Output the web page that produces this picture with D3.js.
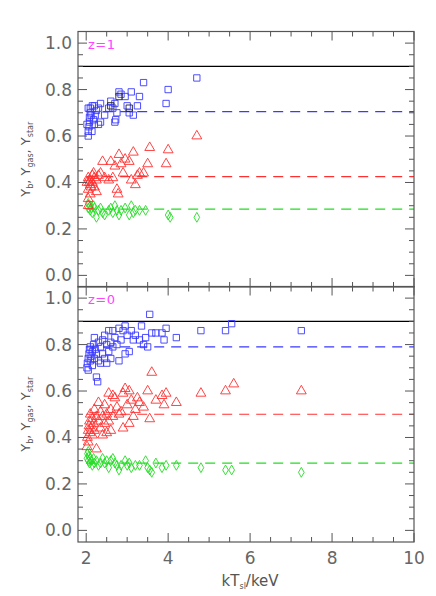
<!DOCTYPE html>
<html><head><meta charset="utf-8">
<script src="https://cdn.jsdelivr.net/npm/d3@7"></script>
<style>body{margin:0;background:#fff}text{font-family:"DejaVu Sans",sans-serif}</style>
</head><body><svg id="c" width="436" height="596"></svg>
<script>
const xTicks=[2,4,6,8,10];
const yTicks=[0.0,0.2,0.4,0.6,0.8,1.0];
const panelLabels=["z=1","z=0"];
// reference lines per panel: [black, blue, red, green]
const refLines=[[0.9,0.705,0.425,0.285],[0.9,0.79,0.5,0.29]];
// z=1
const b1=[[2.05,0.60],[2.05,0.62],[2.07,0.64],[2.08,0.66],[2.1,0.70],[2.05,0.72],[2.1,0.72],[2.15,0.73],[2.2,0.73],[2.12,0.69],[2.18,0.67],[2.2,0.65],[2.25,0.71],[2.3,0.72],[2.35,0.74],[2.3,0.65],[2.35,0.66],[2.45,0.69],[2.55,0.72],[2.6,0.75],[2.7,0.74],[2.65,0.72],[2.7,0.66],[2.72,0.67],[2.75,0.70],[2.8,0.79],[2.85,0.78],[2.95,0.77],[3.0,0.73],[3.05,0.70],[3.1,0.79],[3.15,0.69],[3.25,0.73],[3.3,0.77],[3.4,0.83],[3.95,0.74],[4.0,0.80],[4.7,0.85],[2.22,0.69],[2.08,0.68],[2.02,0.65],[2.14,0.62]];
const k1=[[2.8,0.77],[3.05,0.72],[2.6,0.73]];
const r1=[[2.05,0.30],[2.05,0.33],[2.1,0.35],[2.05,0.37],[2.1,0.39],[2.1,0.41],[2.15,0.40],[2.2,0.42],[2.05,0.42],[2.15,0.43],[2.2,0.38],[2.25,0.36],[2.3,0.43],[2.35,0.44],[2.4,0.49],[2.45,0.42],[2.55,0.41],[2.6,0.49],[2.65,0.42],[2.7,0.47],[2.75,0.37],[2.78,0.35],[2.8,0.52],[2.85,0.48],[2.9,0.44],[2.95,0.50],[3.05,0.49],[3.1,0.41],[3.15,0.53],[3.2,0.39],[3.25,0.43],[3.3,0.44],[3.4,0.44],[3.5,0.48],[3.55,0.55],[3.95,0.48],[4.0,0.54],[4.7,0.60],[2.08,0.40],[2.12,0.38],[2.18,0.44],[2.02,0.40],[2.25,0.41]];
const g1=[[2.05,0.29],[2.1,0.30],[2.05,0.31],[2.1,0.28],[2.15,0.27],[2.2,0.29],[2.25,0.25],[2.3,0.28],[2.4,0.27],[2.45,0.26],[2.55,0.28],[2.6,0.29],[2.7,0.30],[2.75,0.28],[2.8,0.26],[2.85,0.28],[2.95,0.29],[3.05,0.26],[3.1,0.30],[3.15,0.27],[3.2,0.28],[3.3,0.28],[3.45,0.28],[4.0,0.26],[4.05,0.25],[4.7,0.25],[2.12,0.29],[2.18,0.30],[2.35,0.29],[2.65,0.27]];
// z=0
const b0=[[2.02,0.70],[2.03,0.72],[2.05,0.74],[2.05,0.69],[2.07,0.76],[2.08,0.78],[2.1,0.73],[2.1,0.79],[2.12,0.75],[2.15,0.77],[2.15,0.71],[2.18,0.80],[2.2,0.74],[2.2,0.83],[2.22,0.78],[2.25,0.76],[2.25,0.66],[2.28,0.64],[2.3,0.81],[2.3,0.73],[2.35,0.79],[2.35,0.72],[2.4,0.82],[2.4,0.76],[2.45,0.74],[2.45,0.84],[2.5,0.80],[2.5,0.72],[2.55,0.86],[2.55,0.77],[2.6,0.81],[2.6,0.74],[2.65,0.86],[2.65,0.79],[2.7,0.83],[2.75,0.80],[2.8,0.87],[2.8,0.73],[2.85,0.82],[2.9,0.86],[2.95,0.88],[2.95,0.76],[3.0,0.84],[3.05,0.77],[3.1,0.86],[3.15,0.82],[3.2,0.84],[3.3,0.82],[3.35,0.88],[3.4,0.80],[3.45,0.83],[3.5,0.79],[3.55,0.93],[3.6,0.85],[3.7,0.85],[3.85,0.85],[3.9,0.82],[3.95,0.87],[4.2,0.83],[4.8,0.86],[5.4,0.86],[5.55,0.89],[7.25,0.86]];
const r0=[[2.02,0.36],[2.03,0.40],[2.05,0.43],[2.05,0.38],[2.07,0.45],[2.08,0.47],[2.1,0.42],[2.1,0.50],[2.12,0.44],[2.15,0.48],[2.15,0.41],[2.18,0.46],[2.2,0.52],[2.2,0.43],[2.25,0.35],[2.25,0.49],[2.3,0.47],[2.3,0.55],[2.35,0.51],[2.35,0.44],[2.4,0.49],[2.4,0.41],[2.45,0.46],[2.45,0.54],[2.5,0.50],[2.5,0.42],[2.55,0.59],[2.55,0.47],[2.6,0.52],[2.6,0.43],[2.65,0.58],[2.65,0.49],[2.7,0.57],[2.75,0.53],[2.8,0.50],[2.85,0.51],[2.9,0.59],[2.9,0.44],[2.95,0.61],[3.0,0.54],[3.05,0.60],[3.05,0.46],[3.1,0.56],[3.15,0.49],[3.2,0.52],[3.25,0.57],[3.3,0.55],[3.4,0.53],[3.5,0.60],[3.55,0.48],[3.6,0.68],[3.7,0.56],[3.85,0.58],[3.9,0.54],[3.95,0.59],[4.2,0.55],[4.8,0.59],[5.4,0.60],[5.6,0.63],[7.25,0.60]];
const g0=[[2.02,0.31],[2.03,0.33],[2.05,0.34],[2.05,0.30],[2.07,0.32],[2.08,0.29],[2.1,0.31],[2.12,0.30],[2.15,0.28],[2.18,0.31],[2.2,0.29],[2.25,0.30],[2.3,0.28],[2.35,0.29],[2.4,0.31],[2.45,0.29],[2.5,0.30],[2.55,0.27],[2.6,0.30],[2.65,0.31],[2.7,0.29],[2.75,0.28],[2.8,0.26],[2.85,0.28],[2.95,0.30],[3.0,0.28],[3.05,0.29],[3.1,0.27],[3.2,0.28],[3.3,0.28],[3.45,0.30],[3.5,0.27],[3.55,0.26],[3.6,0.25],[3.7,0.29],[3.85,0.27],[3.95,0.28],[4.2,0.28],[4.8,0.27],[5.4,0.26],[5.55,0.26],[7.25,0.25]];
const panels=[{b:b1,k:k1,r:r1,g:g1},{b:b0,k:[],r:r0,g:g0}];

const svg=d3.select("#c");
const L=78,R=414;
const x=d3.scaleLinear().domain([1.8,10]).range([L,R]);
const tops=[31.5,286.5],H=255.5;
const AX="#555";
const col={b:"#3a3aff",k:"#222",r:"#ff3030",g:"#22dd22"};
panels.forEach((p,i)=>{
  const y=d3.scaleLinear().domain([-0.05,1.05]).range([tops[i]+H,tops[i]]);
  const g=svg.append("g");
  // ref lines
  const rl=refLines[i];
  g.append("line").attr("x1",L).attr("x2",R).attr("y1",y(rl[0])).attr("y2",y(rl[0])).attr("stroke","#000").attr("stroke-width",1.2);
  [["b",1],["r",2],["g",3]].forEach(([c,j])=>g.append("line").attr("x1",x(2)).attr("x2",R).attr("y1",y(rl[j])).attr("y2",y(rl[j])).attr("stroke",col[c]).attr("stroke-width",1.2).attr("stroke-dasharray","10,7"));
  const sq=d3.symbol().type(d3.symbolSquare).size(40)();
  const tri=d3.symbol().type(d3.symbolTriangle).size(42)();
  const dia=d3.symbol().type(d3.symbolDiamond).size(28)();
  const draw=(arr,path,c)=>g.selectAll(null).data(arr).join("path").attr("d",path)
    .attr("transform",d=>`translate(${x(d[0])},${y(d[1])})`).attr("fill","none").attr("stroke",col[c]).attr("stroke-width",0.9);
  draw(p.g,dia,"g");draw(p.r,tri,"r");draw(p.b,sq,"b");draw(p.k,sq,"k");
  // frame
  g.append("rect").attr("x",L).attr("y",tops[i]).attr("width",R-L).attr("height",H).attr("fill","none").attr("stroke",AX).attr("stroke-width",1.2);
  const minorY=d3.range(0,1.0001,0.05), minorX=d3.range(2,10.001,0.5);
  minorY.forEach(v=>{const big=yTicks.some(t=>Math.abs(t-v)<1e-6);const l=big?9:5;
    g.append("line").attr("x1",L).attr("x2",L+l).attr("y1",y(v)).attr("y2",y(v)).attr("stroke",AX);
    g.append("line").attr("x1",R).attr("x2",R-l).attr("y1",y(v)).attr("y2",y(v)).attr("stroke",AX);});
  minorX.forEach(v=>{const big=xTicks.includes(v);const l=big?9:5;
    g.append("line").attr("x1",x(v)).attr("x2",x(v)).attr("y1",tops[i]+H).attr("y2",tops[i]+H-l).attr("stroke",AX);
    g.append("line").attr("x1",x(v)).attr("x2",x(v)).attr("y1",tops[i]).attr("y2",tops[i]+l).attr("stroke",AX);});
  yTicks.forEach(t=>g.append("text").attr("x",L-6).attr("y",y(t)+6).attr("text-anchor","end").attr("font-size",17).attr("fill","#666").text(t.toFixed(1)));
  g.append("text").attr("x",L+10).attr("y",y(0.975)).attr("font-size",13).attr("fill","#ff44ff").text(panelLabels[i].replace("=","=")).attr("letter-spacing",0.5);
  const yl=g.append("text").attr("transform",`translate(30,${tops[i]+H/2}) rotate(-90)`).attr("text-anchor","middle").attr("font-size",13).attr("fill","#555");
  yl.append("tspan").text("Y");yl.append("tspan").attr("font-size",8).attr("dy",3).text("b");
  yl.append("tspan").attr("dy",-3).text(",  Y");yl.append("tspan").attr("font-size",8).attr("dy",3).text("gas");
  yl.append("tspan").attr("dy",-3).text(",  Y");yl.append("tspan").attr("font-size",8).attr("dy",3).text("star");
});
const yb=tops[1]+H;
xTicks.forEach(t=>svg.append("text").attr("x",x(t)).attr("y",yb+22).attr("text-anchor","middle").attr("font-size",17).attr("fill","#666").text(t));
const xl=svg.append("text").attr("x",x(6)).attr("y",yb+44).attr("text-anchor","middle").attr("font-size",15).attr("fill","#555");
xl.append("tspan").text("kT");xl.append("tspan").attr("font-size",8).attr("dy",3).text("sl");xl.append("tspan").attr("dy",-3).text("/keV");
</script></body></html>
